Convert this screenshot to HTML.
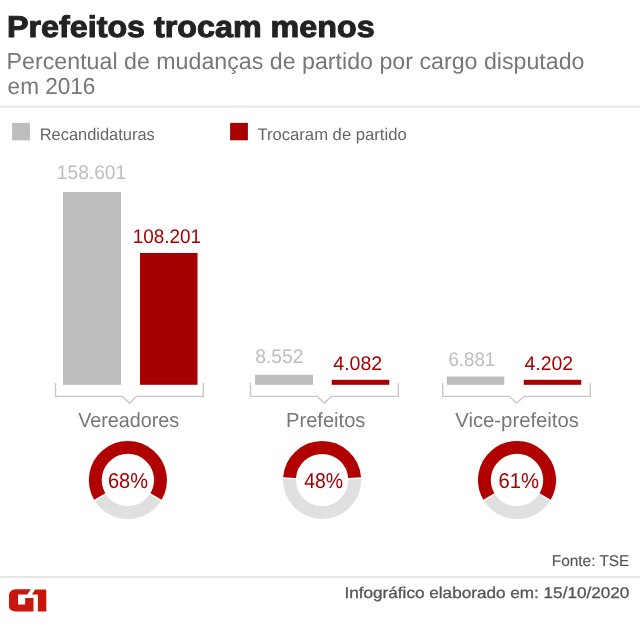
<!DOCTYPE html>
<html><head><meta charset="utf-8"><title>Prefeitos trocam menos</title><style>
html,body{margin:0;padding:0;background:#fff;width:640px;height:634px;overflow:hidden}
svg{display:block;will-change:transform}
text{font-family:"Liberation Sans",sans-serif;text-rendering:geometricPrecision}
</style></head><body>
<svg width="640" height="634" viewBox="0 0 640 634">
<rect x="0" y="0" width="640" height="634" fill="#fff"/>
<!-- header -->
<text id="title" stroke="#222" stroke-width="1" x="6.99" y="36.8" font-size="30" font-weight="bold" fill="#222" textLength="367.62" lengthAdjust="spacingAndGlyphs">Prefeitos trocam menos</text>
<text id="sub1" x="6.64" y="68.6" font-size="23.2" fill="#777" textLength="577.91" lengthAdjust="spacingAndGlyphs">Percentual de mudanças de partido por cargo disputado</text>
<text id="sub2" x="7.59" y="93.9" font-size="23.2" fill="#777" textLength="87.85" lengthAdjust="spacingAndGlyphs">em 2016</text>
<rect x="0" y="105.6" width="640" height="2" fill="#e4e4e4"/>
<!-- legend -->
<rect x="12.1" y="122.9" width="17.9" height="17.5" fill="#bdbdbd"/>
<text id="leg1" x="39.66" y="139.55" font-size="16.8" fill="#666" textLength="115.11" lengthAdjust="spacingAndGlyphs">Recandidaturas</text>
<rect x="230.1" y="122.9" width="17.8" height="17.4" fill="#a80000"/>
<text id="leg2" x="257.39" y="139.55" font-size="16.8" fill="#666" textLength="149.32" lengthAdjust="spacingAndGlyphs">Trocaram de partido</text>
<!-- bars: Vereadores -->
<rect x="63" y="192" width="58" height="192.8" fill="#bdbdbd"/>
<rect x="140" y="253" width="57.5" height="131.8" fill="#a80000"/>
<text id="n158" x="56.86" y="179.4" font-size="19.8" fill="#bdbdbd" textLength="69.34" lengthAdjust="spacingAndGlyphs">158.601</text>
<text id="n108" x="132.67" y="242.5" font-size="19.8" fill="#a80000" textLength="68.45" lengthAdjust="spacingAndGlyphs">108.201</text>
<!-- Prefeitos -->
<rect x="255" y="374.75" width="58" height="10.05" fill="#bdbdbd"/>
<rect x="331.7" y="379.8" width="57.6" height="5" fill="#a80000"/>
<text id="n8552" x="255.21" y="363.3" font-size="19.8" fill="#bdbdbd" textLength="48.24" lengthAdjust="spacingAndGlyphs">8.552</text>
<text id="n4082" x="333.26" y="369.7" font-size="19.8" fill="#a80000" textLength="49.01" lengthAdjust="spacingAndGlyphs">4.082</text>
<!-- Vice -->
<rect x="446.8" y="376.5" width="57.4" height="8.3" fill="#bdbdbd"/>
<rect x="523.75" y="379.8" width="57.5" height="5" fill="#a80000"/>
<text id="n6881" x="448.51" y="365.5" font-size="19.8" fill="#bdbdbd" textLength="46.68" lengthAdjust="spacingAndGlyphs">6.881</text>
<text id="n4202" x="524.46" y="370.2" font-size="19.8" fill="#a80000" textLength="48.68" lengthAdjust="spacingAndGlyphs">4.202</text>
<!-- brackets -->
<g fill="none" stroke="#c8c8c8" stroke-width="1.35">
<path d="M55.5 383 V396.4 H122.5 L129.4 403.2 L136.3 396.4 H203.3 V383"/>
<path d="M250.5 383 V396.4 H317.4 L324.3 403.2 L331.2 396.4 H398.4 V383"/>
<path d="M442.7 383 V396.4 H509.3 L516.6 403.2 L523.9 396.4 H590.3 V383"/>
</g>
<!-- labels -->
<text id="Vere" x="78.21" y="426.6" font-size="20.5" fill="#777" textLength="101.03" lengthAdjust="spacingAndGlyphs">Vereadores</text>
<text id="Pref" x="286.06" y="426.6" font-size="20.5" fill="#777" textLength="79.37" lengthAdjust="spacingAndGlyphs">Prefeitos</text>
<text id="Vice" x="455.22" y="426.6" font-size="20.5" fill="#777" textLength="123.72" lengthAdjust="spacingAndGlyphs">Vice-prefeitos</text>
<!-- donuts -->
<g fill="none" stroke-width="12.9">
<path d="M99.78 496.50 A32.6 32.6 0 1 1 156.02 496.50" stroke="#b00000"/>
<path d="M155.24 497.76 A32.6 32.6 0 0 1 100.56 497.76" stroke="#e0e0e0"/>
<path d="M289.59 477.61 A32.6 32.6 0 0 1 354.61 477.61" stroke="#b00000"/>
<path d="M354.69 479.09 A32.6 32.6 0 1 1 289.51 479.09" stroke="#e0e0e0"/>
<path d="M488.88 496.50 A32.6 32.6 0 1 1 545.12 496.50" stroke="#b00000"/>
<path d="M544.34 497.76 A32.6 32.6 0 0 1 489.66 497.76" stroke="#e0e0e0"/>
</g>
<text id="p68" x="107.96" y="488" font-size="21.5" fill="#a80000" textLength="40.00" lengthAdjust="spacingAndGlyphs">68%</text>
<text id="p48" x="304.29" y="488" font-size="21.5" fill="#a80000" textLength="38.85" lengthAdjust="spacingAndGlyphs">48%</text>
<text id="p61" x="498.60" y="488" font-size="21.5" fill="#a80000" textLength="40.51" lengthAdjust="spacingAndGlyphs">61%</text>
<!-- footer -->
<text id="fonte" x="551.77" y="565.8" font-size="15.5" fill="#555" textLength="77.63" lengthAdjust="spacingAndGlyphs" stroke="#555" stroke-width="0.12">Fonte: TSE</text>
<rect x="0" y="576.2" width="640" height="1.6" fill="#e2e2e2"/>
<text id="info" x="344.52" y="598.2" font-size="15.5" fill="#555" textLength="284.82" lengthAdjust="spacingAndGlyphs" stroke="#555" stroke-width="0.3">Infográfico elaborado em: 15/10/2020</text>
<!-- G1 logo -->
<path fill="#c8160d" d="M15.4 589.3 H30.85 L27.3 594.4 H18 V604.55 H25.1 V597.9 H33.5 V611.4 H15.4 A6.4 4.6 0 0 1 9 606.8 V594.8 A6.4 5.5 0 0 1 15.4 589.3 Z"/>
<path fill="#c8160d" d="M35.07 589.5 H45 Q46.3 589.5 46.3 590.8 V611.4 H37.9 V594.4 H31.97 Z"/>
</svg>
</body></html>
